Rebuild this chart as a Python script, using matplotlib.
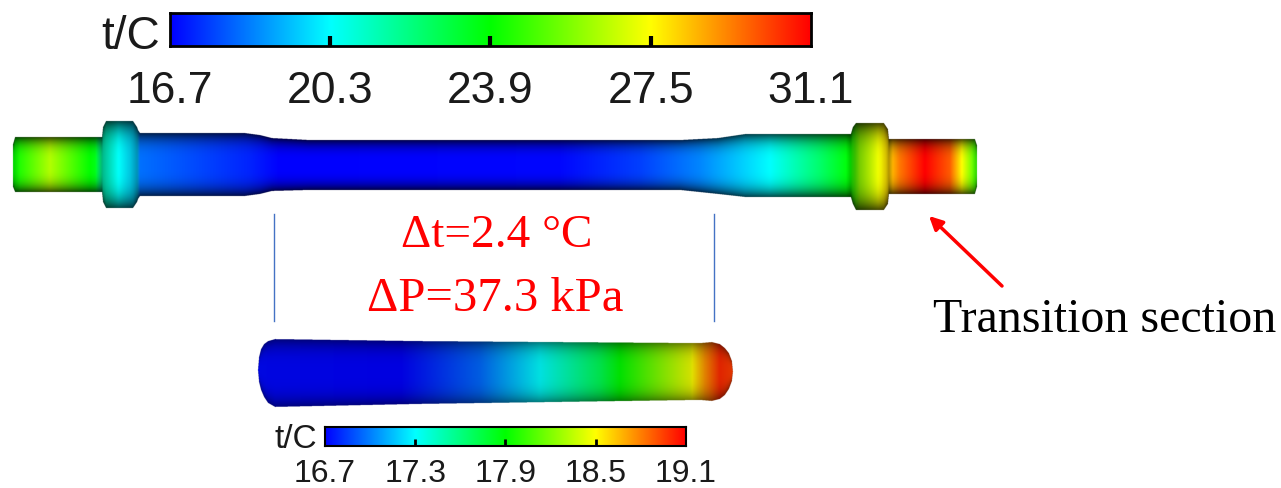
import numpy as np
import matplotlib
matplotlib.use("Agg")
import matplotlib.pyplot as plt
from matplotlib.colors import LinearSegmentedColormap

W, H = 1281, 489

big_ticks = [16.7, 20.3, 23.9, 27.5, 31.1]
small_ticks = [16.7, 17.3, 17.9, 18.5, 19.1]

# surface temperature along the long pipe
pipe_x = [13, 50, 95, 103, 120, 137, 140, 250, 280, 560, 640, 700, 770, 820, 850, 860, 880, 888, 900, 925, 950, 962, 977]
pipe_t = [23.9, 26.4, 23.6, 21.2, 20.3, 19.6, 18.3, 17.2, 16.7, 16.8, 17.6, 18.6, 20.3, 22.4, 23.9, 26.0, 27.4, 28.0, 29.4, 31.1, 29.8, 27.5, 24.6]

# outline of the long pipe (top and bottom edge)
edge_x = [13, 15, 102, 103, 106, 133, 137, 138, 140, 245, 260, 272, 310, 680, 718, 745, 851, 853, 856, 884, 888, 889, 975, 977]
edge_top = [145, 138, 138, 128, 122, 122, 128, 131, 134, 134, 136, 139, 141, 141, 139, 135, 135, 128, 124, 124, 130, 140, 140, 146]
edge_bot = [188, 193, 193, 203, 209, 209, 203, 200, 197, 197, 195, 192, 191, 191, 195, 198, 198, 205, 211, 211, 205, 195, 195, 188]

# temperature and outline of the transition section
tube_x = [258, 400, 480, 540, 600, 620, 690, 705, 720, 733]
tube_t = [16.72, 16.7, 16.95, 17.3, 17.7, 17.9, 18.45, 18.75, 19.0, 18.95]
tube_edge_x = [258, 259, 261, 264, 268, 275, 420, 700, 712, 720, 725, 729, 732, 733]
tube_edge_top = [370, 358, 350, 345, 342, 340, 342, 344, 343, 345, 349, 354, 362, 372]
tube_edge_bot = [372, 383, 391, 398, 404, 408, 405, 401, 402, 400, 396, 390, 382, 373]

cm = LinearSegmentedColormap.from_list(
    "rainbow5", ["#0000ff", "#00ffff", "#00ff00", "#ffff00", "#ff0000"], N=512)


def shaded_surface(ax, xs, ts, ex, et, eb, tmin, tmax, dark, bbox, xshade=None, gain=1.0):
    x0, x1, y0, y1 = bbox
    ss = 4
    gx = np.linspace(x0, x1, (x1 - x0) * ss)
    gy = np.linspace(y0, y1, (y1 - y0) * ss)
    top = np.interp(gx, ex, et)
    bot = np.interp(gx, ex, eb)
    f = (np.interp(gx, xs, ts) - tmin) / (tmax - tmin)
    rgba = cm(f)[None, :, :].repeat(len(gy), axis=0)
    yy = gy[:, None]
    u = np.abs(yy - (top + bot) / 2) / ((bot - top) / 2)
    shade = gain * (1 - dark * np.clip(u, 0, 1) ** 3.2)
    if xshade is not None:
        shade = shade * np.interp(gx, xshade[0], xshade[1])[None, :]
    rgba[..., :3] *= shade[..., None]
    rgba[..., 3] = ((yy >= top) & (yy <= bot)).astype(float)
    rgba[:, (gx < ex[0]) | (gx > ex[-1]), 3] = 0
    ax.imshow(rgba, extent=(x0, x1, y1, y0), aspect="auto", interpolation="hanning", zorder=2)


def colorbar(fig, box, ticks, fs, pad, tlen, lw, tw):
    x0, y0, x1, y1 = box
    cax = fig.add_axes([x0 / W, 1 - y1 / H, (x1 - x0) / W, (y1 - y0) / H])
    cax.imshow(np.linspace(0, 1, 512)[None, :], cmap=cm, aspect="auto",
               extent=(ticks[0], ticks[-1], 0, 1))
    cax.set_yticks([])
    cax.set_xticks(ticks)
    cax.set_xticklabels([f"{t:.1f}" for t in ticks], fontsize=fs, color="#1a1a1a", family="Liberation Sans")
    cax.tick_params(axis="x", direction="in", length=tlen, width=tw, pad=pad, color="black")
    # end ticks sit on the frame, the original has none there
    cax.xaxis.get_major_ticks()[0].tick1line.set_visible(False)
    cax.xaxis.get_major_ticks()[-1].tick1line.set_visible(False)
    for s in cax.spines.values():
        s.set_linewidth(lw)
    return cax


fig = plt.figure(figsize=(W / 100, H / 100), dpi=100)
ax = fig.add_axes([0, 0, 1, 1])

shaded_surface(ax, pipe_x, pipe_t, edge_x, edge_top, edge_bot, big_ticks[0], big_ticks[-1], 0.72,
               (10, 980, 118, 214),
               xshade=([14, 20, 96, 102, 106, 118, 130, 137, 140, 846, 851, 855, 878, 886, 889, 893, 972, 977],
                       [0.85, 1, 1, 0.72, 0.8, 1, 0.88, 0.72, 1, 1, 0.8, 0.75, 1, 0.85, 0.7, 1, 1, 0.85]))
shaded_surface(ax, tube_x, tube_t, tube_edge_x, tube_edge_top, tube_edge_bot, small_ticks[0], small_ticks[-1], 0.45,
               (255, 736, 336, 412), gain=0.88)

ax.set_xlim(0, W)
ax.set_ylim(H, 0)
ax.axis("off")

colorbar(fig, (170, 14, 811, 47), big_ticks, 32, 17, 7, 2, 3)
colorbar(fig, (325, 428, 686, 447), small_ticks, 23, 9, 5, 1.5, 2)

ax.text(160, 37, "t/C", fontsize=33, ha="right", va="center", family="Liberation Sans", color="#1a1a1a")
ax.text(317, 440, "t/C", fontsize=24, ha="right", va="center", family="Liberation Sans", color="#1a1a1a")

for lx in (274, 714):
    ax.plot([lx, lx], [215, 322], color="#4472c4", lw=1)

ax.text(497, 236, "Δt=2.4 °C", color="#ff0000", fontsize=34, ha="center", va="center", family="Liberation Serif")
ax.text(495, 299, "ΔP=37.3 kPa", color="#ff0000", fontsize=35, ha="center", va="center", family="Liberation Serif")
ax.text(1105, 320, "Transition section", color="black", fontsize=34.5, ha="center", va="center", family="Liberation Serif")
ax.annotate("", xy=(929, 217), xytext=(1002, 287),
            arrowprops=dict(arrowstyle="-|>", color="#ff0000", lw=2.5, mutation_scale=20, shrinkA=0, shrinkB=0))

fig.savefig("out.png", dpi=100)
